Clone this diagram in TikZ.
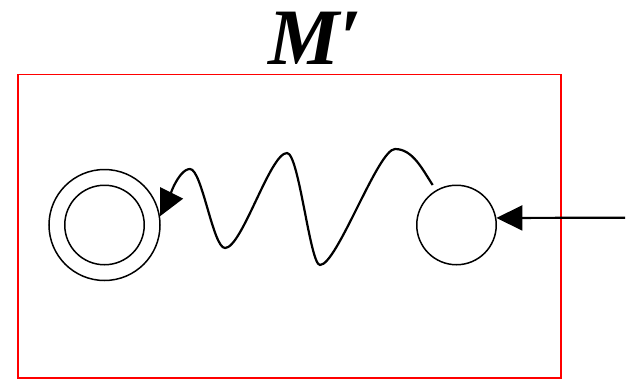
\documentclass[tikz,border=0pt]{standalone}
\usepackage{fontspec}
\setmainfont{Liberation Serif}
\usetikzlibrary{arrows.meta,calc}
\begin{document}
\begin{tikzpicture}[x=1pt,y=-1pt,
  st/.style={circle,draw,line width=1.5pt,inner sep=0pt},
  conn/.style={line width=2.2pt,-{Triangle[length=26pt,width=25pt]}}]
\useasboundingbox (0,0) rectangle (632,378);
\node[draw=red,line width=1.6pt,minimum width=543.3pt,minimum height=303.5pt,inner sep=0pt,anchor=north west] (box) at (17,73.5) {};
\node[font=\fontsize{80}{84}\selectfont\bfseries\itshape,anchor=base,inner sep=0pt] (lbl) at (315,64) {M\char"2032};
\node[st,minimum size=111pt] (acc) at (104.5,225) {};
\node[st,minimum size=79.5pt] (accin) at (104.5,225) {};
\node[st,minimum size=79.5pt] (q) at (456.5,225) {};
\coordinate (src) at (625,217.7);
\coordinate (ws) at (432.7,185);
\draw[conn] (src) -- (q.10);
\draw[conn] (ws) .. controls (422.7,170) and (413,149) .. (395,149)
  .. controls (378,149) and (337,265) .. (320,265)
  .. controls (310,265) and (299,153) .. (287,153)
  .. controls (270,153) and (242,248) .. (225,248)
  .. controls (213,248) and (202,169) .. (190,169)
  .. controls (178,169) and ($(acc.9)+(7,-14)$) .. (acc.9);
\end{tikzpicture}
\end{document}
